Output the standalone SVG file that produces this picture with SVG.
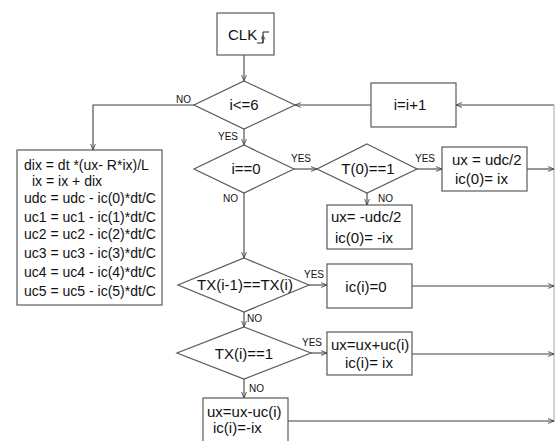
<svg xmlns="http://www.w3.org/2000/svg" width="555" height="441" viewBox="0 0 555 441">
<style>
.box{fill:#fff;stroke:#5a5a5a;stroke-width:1.2}
.dia{fill:#fff;stroke:#5a5a5a;stroke-width:1.2}
.ln{fill:none;stroke:#404040;stroke-width:1.1}
.t{font-family:"Liberation Sans",Arial,sans-serif;font-size:15px;fill:#111}
.m{text-anchor:middle}
.s{font-family:"Liberation Sans",Arial,sans-serif;font-size:10px;fill:#111}
.b{font-family:"Liberation Sans",Arial,sans-serif;font-size:14px;fill:#111}
</style>
<defs>
<marker id="arr" viewBox="0 0 10 10" refX="10" refY="5" markerWidth="6" markerHeight="6" orient="auto" markerUnits="userSpaceOnUse">
<path d="M0,1 L10,5 L0,9" fill="none" stroke="#404040" stroke-width="1.4"/>
</marker>
<marker id="arrS" viewBox="0 0 10 10" refX="5" refY="5" markerWidth="5" markerHeight="5" orient="auto" markerUnits="userSpaceOnUse">
<path d="M0,1 L10,5 L0,9" fill="none" stroke="#404040" stroke-width="1.4"/>
</marker>
</defs>
<rect width="555" height="441" fill="#fff"/>

<g id="connectors">
<path class="ln" d="M554,105 V422" style="stroke:#b0b0b0"/>
<path class="ln" d="M244,55 V81" marker-end="url(#arr)"/>
<path class="ln" d="M371,105 H295" marker-end="url(#arr)"/>
<path class="ln" d="M554,105 H456" marker-end="url(#arr)"/>
<path class="ln" d="M194,105 H93 V150" marker-end="url(#arr)"/>
<path class="ln" d="M244,129 V145" marker-end="url(#arr)"/>
<path class="ln" d="M294,169 H317" marker-end="url(#arr)"/>
<path class="ln" d="M417,169 H442" marker-end="url(#arr)"/>
<path class="ln" d="M527,169 H554" marker-end="url(#arr)"/>
<path class="ln" d="M367,193 V205" marker-end="url(#arr)"/>
<path class="ln" d="M244,193 V258" marker-end="url(#arr)"/>
<path class="ln" d="M309,285 H327" marker-end="url(#arr)"/>
<path class="ln" d="M412,286 H554" marker-end="url(#arr)"/>
<path class="ln" d="M244,312 V327" marker-end="url(#arr)"/>
<path class="ln" d="M311,353 H327" marker-end="url(#arr)"/>
<path class="ln" d="M412,354 H554" marker-end="url(#arr)"/>
<path class="ln" d="M244,379 V398" marker-end="url(#arr)"/>
<path class="ln" d="M288,421 H554" marker-end="url(#arr)"/>
<text class="s" x="176" y="103">NO</text>
<text class="s" x="218" y="140">YES</text>
<text class="s" x="291" y="162">YES</text>
<text class="s" x="415" y="162">YES</text>
<text class="s" x="378" y="202">NO</text>
<text class="s" x="223" y="202">NO</text>
<text class="s" x="304" y="278">YES</text>
<text class="s" x="247" y="322">NO</text>
<text class="s" x="302" y="346">YES</text>
<text class="s" x="249" y="392">NO</text>
</g>

<g id="clk">
<rect class="box" x="217" y="13" width="57" height="42"/>
<text class="t" x="228" y="40">CLK</text>
<path d="M257,43 H263 V32 H269" fill="none" stroke="#222" stroke-width="1"/>
<path d="M263,43 V37" fill="none" stroke="#222" stroke-width="1" marker-end="url(#arrS)"/>
</g>

<g id="cond-i6">
<polygon class="dia" points="244,81 295,105 244,129 194,105"/>
<text class="t m" x="244" y="110">i&lt;=6</text>
</g>

<g id="inc">
<rect class="box" x="371" y="83" width="85" height="44"/>
<text class="t m" x="410" y="110">i=i+1</text>
</g>

<g id="update">
<rect class="box" x="17" y="150" width="145" height="155"/>
<text class="b" x="24" y="170">dix = dt *(ux- R*ix)/L</text>
<text class="b" x="32" y="186">ix = ix + dix</text>
<text class="b" x="24" y="203">udc = udc - ic(0)*dt/C</text>
<text class="b" x="24" y="222">uc1 = uc1 - ic(1)*dt/C</text>
<text class="b" x="24" y="239">uc2 = uc2 - ic(2)*dt/C</text>
<text class="b" x="24" y="258">uc3 = uc3 - ic(3)*dt/C</text>
<text class="b" x="24" y="277">uc4 = uc4 - ic(4)*dt/C</text>
<text class="b" x="24" y="296">uc5 = uc5 - ic(5)*dt/C</text>
</g>

<g id="cond-i0">
<polygon class="dia" points="244,145 294,169 244,193 194,169"/>
<text class="t m" x="246" y="174">i==0</text>
</g>

<g id="cond-t0">
<polygon class="dia" points="367,144 417,169 367,193 317,169"/>
<text class="t m" x="368" y="174">T(0)==1</text>
</g>

<g id="pos">
<rect class="box" x="442" y="147" width="85" height="44"/>
<text class="t" x="452" y="165">ux = udc/2</text>
<text class="t" x="455" y="184">ic(0)= ix</text>
</g>

<g id="neg">
<rect class="box" x="327" y="205" width="85" height="44"/>
<text class="t" x="331" y="222">ux= -udc/2</text>
<text class="t" x="335" y="243">ic(0)= -ix</text>
</g>

<g id="cond-txeq">
<polygon class="dia" points="244,258 309,285 244,312 178,285"/>
<text class="t m" x="245" y="290">TX(i-1)==TX(i)</text>
</g>

<g id="zero">
<rect class="box" x="327" y="264" width="85" height="44"/>
<text class="t m" x="366" y="292">ic(i)=0</text>
</g>

<g id="cond-tx1">
<polygon class="dia" points="244,327 311,353 244,379 177,353"/>
<text class="t m" x="244" y="359">TX(i)==1</text>
</g>

<g id="plus">
<rect class="box" x="327" y="332" width="85" height="43"/>
<text class="t" x="331" y="350">ux=ux+uc(i)</text>
<text class="t" x="345" y="368">ic(i)= ix</text>
</g>

<g id="minus">
<rect class="box" x="203" y="398" width="85" height="50"/>
<text class="t" x="207" y="417">ux=ux-uc(i)</text>
<text class="t" x="213" y="433">ic(i)=-ix</text>
</g>
</svg>
